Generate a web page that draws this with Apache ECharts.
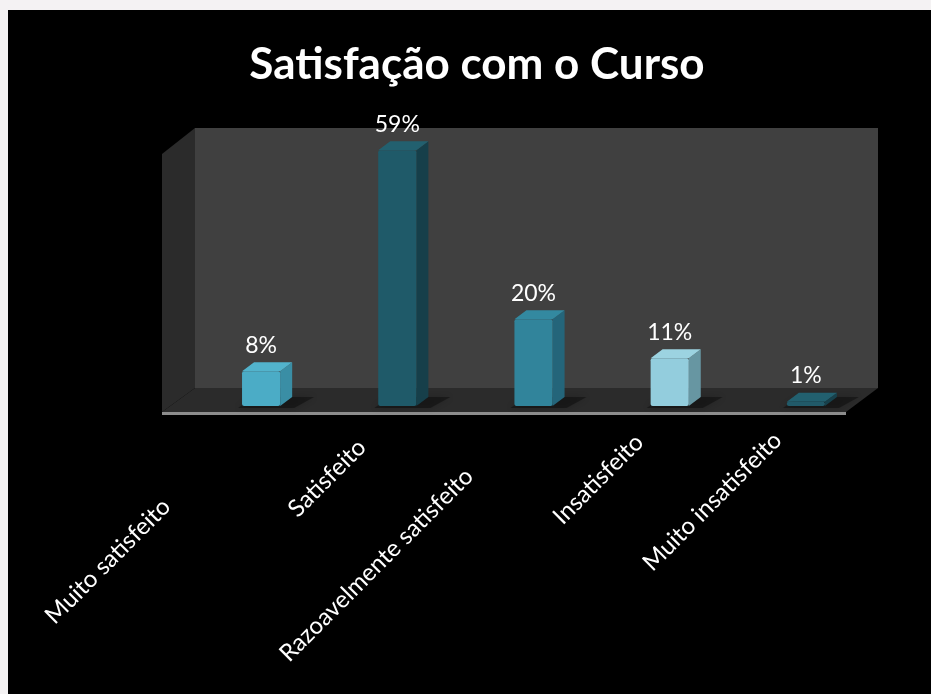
<!DOCTYPE html>
<html><head><meta charset="utf-8">
<script src="https://cdn.jsdelivr.net/npm/echarts@6/dist/echarts.min.js"></script>
<style>
html,body{margin:0;padding:0;background:#f4f2f3;width:931px;height:694px;overflow:hidden;}
#bg{position:absolute;left:8px;top:10px;width:923px;height:684px;background:#000;}
#c{position:absolute;left:0;top:0;width:931px;height:694px;}
</style>
</head><body><div id="bg"></div><div id="c"></div>
<script>
// ---- data ----
const categories = ['Muito satisfeito', 'Satisfeito', 'Razoavelmente satisfeito', 'Insatisfeito', 'Muito insatisfeito'];
const values = [8, 59, 20, 11, 1];
const valueLabels = ['8%', '59%', '20%', '11%', '1%'];
const titleText = 'Satisfação com o Curso';

// ---- styles ----
const frontColors = ['#4bacc6', '#1f5a69', '#31849b', '#93cddd', '#215a69'];
const topColors   = ['#52b3cc', '#22606f', '#3389a0', '#9cd3e1', '#22606f'];
const sideColors  = ['#3a8ea5', '#163f4a', '#24657a', '#6796a2', '#17404b'];
const labelShift  = [134, 50, 91, 43, 40];
const FONT = 'Lato, "Open Sans", sans-serif';

const rich = {};
labelShift.forEach((s, i) => {
  rich['p' + i] = { color: '#ffffff', fontSize: 24, fontFamily: FONT, padding: [0, s, 0, 0] };
});

const chart = echarts.init(document.getElementById('c'), null, { renderer: 'canvas' });

const option = {
  backgroundColor: 'transparent',
  animation: false,
  title: {
    text: titleText,
    left: 477, top: 43, padding: 0, textAlign: 'center',
    textStyle: { color: '#ffffff', fontSize: 44, fontWeight: 'bold', fontFamily: FONT }
  },
  grid: { left: 193, right: 57, top: 146, bottom: 288, containLabel: false },
  xAxis: {
    type: 'category', data: categories, boundaryGap: true,
    axisLine: { show: false }, axisTick: { show: false }, splitLine: { show: false },
    axisLabel: {
      interval: 0, rotate: 45, margin: 2, hideOverlap: false,
      color: '#ffffff', fontSize: 24, fontFamily: FONT,
      formatter: (val, idx) => '{p' + idx + '|' + val + '}',
      rich: rich
    }
  },
  yAxis: { type: 'value', min: 0, max: 60, show: false, splitLine: { show: false } },
  series: [
    {
      type: 'custom', coordinateSystem: 'cartesian2d', silent: true, z: 1,
      data: [[0, 0]],
      renderItem: function (params, api) {
        const cs = params.coordSys;
        const bl = cs.x + 2, br = cs.x + cs.width + 4;
        const bt = cs.y - 18, bb = cs.y + cs.height - 18;
        const fl = cs.x - 31, fr = br - 32, fb = bb + 24, ft = bt + 26;
        return {
          type: 'group',
          children: [
            { type: 'rect', shape: { x: bl, y: bt, width: br - bl, height: bb - bt }, style: { fill: '#404040' } },
            { type: 'polygon', shape: { points: [[fl, ft], [bl, bt], [bl, bb], [fl, fb]] }, style: { fill: '#2b2b2b' } },
            { type: 'polygon', shape: { points: [[fl, fb], [bl, bb], [br, bb], [fr, fb]] }, style: { fill: '#2b2b2b' } },
            { type: 'rect', shape: { x: fl, y: fb, width: fr - fl, height: 3 }, style: { fill: '#8d8d8d' } }
          ]
        };
      }
    },
    {
      type: 'custom', coordinateSystem: 'cartesian2d', silent: true, z: 2,
      data: values.map((v, i) => [i, v]),
      renderItem: function (params, api) {
        const i = api.value(0), v = api.value(1);
        const top = api.coord([i, v]);
        const base = api.coord([i, 0]);
        const bw = api.size([1, 0])[0] * 0.28;
        const x0 = top[0] - bw / 2, x1 = top[0] + bw / 2;
        const dx = 12, dy = -9;
        const ty = top[1], by = base[1];
        return {
          type: 'group',
          children: [
            { type: 'polygon', shape: { points: [[x0 - 4, by + 2], [x0 + dx, by + dy], [x1 + dx + 22, by + dy], [x1 + 14, by + 2]] },
              style: { fill: 'rgba(0,0,0,0.35)', shadowBlur: 6, shadowColor: 'rgba(0,0,0,0.5)' } },
            { type: 'polygon', shape: { points: [[x1, ty], [x1 + dx, ty + dy], [x1 + dx, by + dy], [x1, by]] },
              style: { fill: sideColors[i] } },
            { type: 'polygon', shape: { points: [[x0, ty], [x0 + dx, ty + dy], [x1 + dx, ty + dy], [x1, ty]] },
              style: { fill: topColors[i] } },
            { type: 'rect', shape: { x: x0, y: ty, width: bw, height: Math.max(by - ty, 1), r: 2 },
              style: { fill: frontColors[i] } },
            { type: 'text', x: top[0], y: ty - 26,
              style: { text: valueLabels[i], fill: '#ffffff', fontSize: 23, fontFamily: FONT, align: 'center', verticalAlign: 'middle' } }
          ]
        };
      }
    }
  ]
};
chart.setOption(option);
</script>
</body></html>
